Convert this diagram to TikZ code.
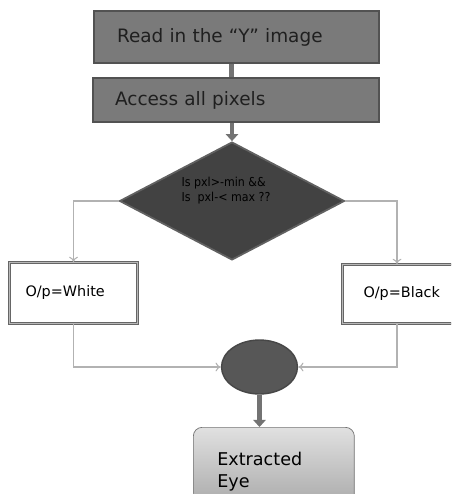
\documentclass[tikz,border=0pt]{standalone}
\usepackage{fontspec}
\setmainfont{DejaVu Sans}
\newfontfamily\condfont{DejaVu Sans Condensed}
\usetikzlibrary{shapes.geometric,arrows.meta,calc}

\begin{document}
\begin{tikzpicture}[x=0.02cm,y=-0.02cm,
    darkbox/.style={draw=black!68,line width=1.2pt,fill=black!52,text=black!88,
      align=left,anchor=north west,font=\fontsize{10.5}{12}\selectfont},
    outbox/.style={draw=black!60,double=black!28,double distance=0.9pt,line width=0.6pt,
      fill=white,align=left,anchor=north west,font=\fontsize{8.2}{10}\selectfont},
    thinline/.style={draw=black!30,line width=0.6pt,-{To[length=3pt,width=5pt]}},
    fatline/.style={draw=black!55,line width=2.6pt},
    fattip/.style={-{Triangle[length=4pt,width=7pt]}}]
  \clip (0,0) rectangle (451,494);

  % steps
  \node[darkbox,minimum width=5.7cm,minimum height=1.04cm,inner xsep=0.46cm,text width=4.78cm]
    (read) at (93,10) {Read in the “Y” image};
  \node[darkbox,minimum width=5.72cm,minimum height=0.88cm,inner xsep=0.44cm,text width=4.84cm]
    (access) at (92,77) {Access all pixels};

  % test
  \node[diamond,aspect=1.9,draw=black!62,line width=1pt,fill=black!74,
    minimum width=4.5cm,minimum height=2.36cm,inner sep=0] (test) at (232,201) {};
  \node[font=\condfont\fontsize{7}{8.5}\selectfont,align=left,text=black]
    (cond) at (226,191) {Is pxl>-min \&\&\\Is\ \ pxl-< max ??};

  % outputs
  \node[outbox,minimum width=2.56cm,minimum height=1.22cm,inner xsep=0.32cm,text width=1.92cm]
    (white) at (9,262) {O/p=White};
  \node[outbox,minimum width=2.6cm,minimum height=1.18cm,inner xsep=0.42cm,text width=1.76cm]
    (blk) at (342,264) {O/p=Black};

  \node[ellipse,draw=black!72,line width=0.8pt,fill=black!66,
    minimum width=1.52cm,minimum height=1.08cm] (join) at (259.5,367) {};

  \node[rounded corners=5pt,draw=black!55,top color=black!12,bottom color=black!36,
    anchor=north west,minimum width=3.22cm,minimum height=1.76cm,inner xsep=0.48cm,
    text width=2.26cm,align=left,font=\fontsize{10}{12.5}\selectfont]
    (eye) at (193,427) {Extracted\\Eye};

  % connectors
  \draw[fatline] ([xshift=-0.1cm]read.south) -- ([xshift=-0.1cm]read.south |- access.north);
  \draw[fatline,fattip] (access.south -| test.north) -- (test.north);
  \draw[thinline] (test.west) -| (white.north);
  \draw[thinline] (test.east) -| ($(blk.north west)+(55,0)$);
  \draw[thinline] (white.south) |- (join.west);
  \draw[thinline] ($(blk.south west)+(55,0)$) |- (join.east);
  \draw[fatline,fattip] (join.south) -- (join.south |- eye.north);
\end{tikzpicture}
\end{document}
